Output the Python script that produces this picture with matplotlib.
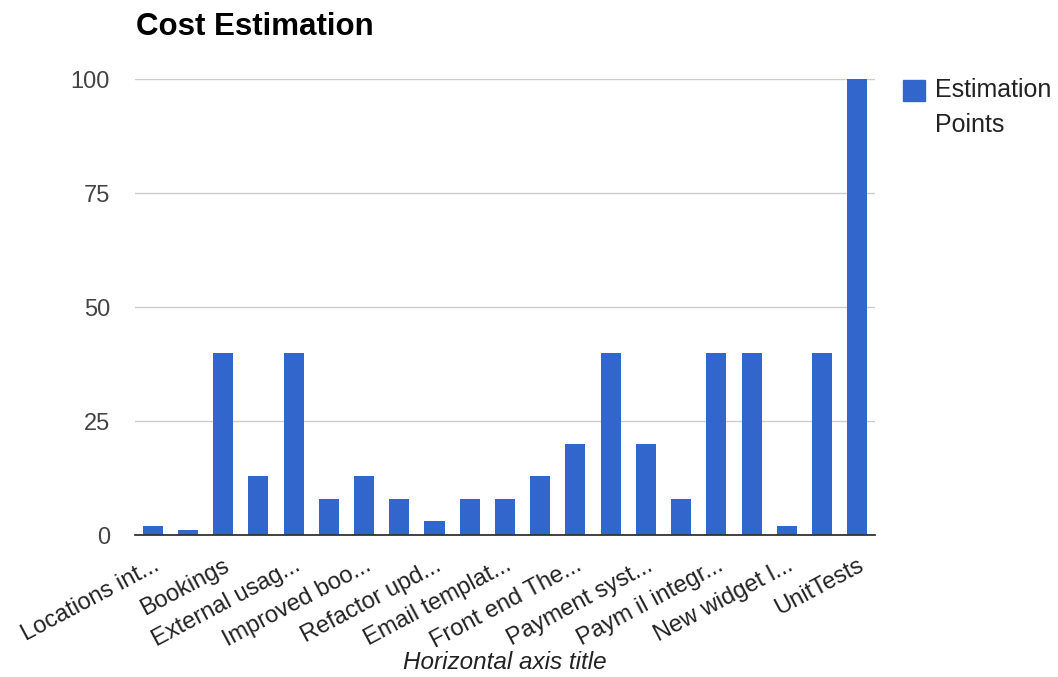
import numpy as np
import matplotlib.pyplot as plt
from matplotlib.patches import Rectangle

# story points per task
points = [2, 1, 40, 13, 40, 8, 13, 8, 3, 8, 8, 13, 20, 40, 20, 8, 40, 40, 2, 40, 100]

# only every other category label is shown on the axis
shown_labels = ["Locations int...", "Bookings", "External usag...", "Improved boo...",
                "Refactor upd...", "Email templat...", "Front end The...", "Payment syst...",
                "Paym il integr...", "New widget l...", "UnitTests"]

y_ticks = [0, 25, 50, 75, 100]
series_name = "Estimation\nPoints"
bar_color = '#3366CC'

plt.rcParams['font.family'] = ['Liberation Sans', 'DejaVu Sans']

fig = plt.figure(figsize=(10.58, 6.77), dpi=100)
ax = fig.add_axes([0.1276, 0.2097, 0.6994, 0.6736])

x = np.arange(len(points))
ax.bar(x, points, width=0.57, color=bar_color, zorder=3)

ax.set_xlim(-0.5, len(points) - 0.5)
ax.set_ylim(0, 100)
ax.set_yticks(y_ticks)
ax.set_yticklabels([str(v) for v in y_ticks], fontsize=17, color='#444444')
ax.grid(axis='y', color='#CCCCCC', linewidth=1, zorder=0)

ax.set_xticks(x[::2])
ax.set_xticklabels(shown_labels, rotation=28, ha='right', rotation_mode='anchor',
                   fontsize=17, color='#222222')
ax.tick_params(axis='both', length=0)
ax.tick_params(axis='y', pad=18)
ax.tick_params(axis='x', pad=14)

for s in ['top', 'right', 'left']:
    ax.spines[s].set_visible(False)
ax.spines['bottom'].set_color('#333333')
ax.spines['bottom'].set_linewidth(1.3)
ax.spines['bottom'].set_zorder(4)

ax.set_xlabel('Horizontal axis title', fontsize=17.5, style='italic', color='#222222')
ax.xaxis.set_label_coords(0.5, -127 / 456)
ax.xaxis.label.set_va('center')

fig.text(0.129, 0.96, 'Cost Estimation', fontsize=22.5, fontweight='bold',
         ha='left', va='center', color='#000000')

# legend drawn by hand: square aligned with the first text line
fig.patches.append(Rectangle((903 / 1058, 1 - 101 / 677), 22 / 1058, 21 / 677,
                             transform=fig.transFigure, color=bar_color))
fig.text(935 / 1058, 1 - 78 / 677, series_name, fontsize=18, color='#222222',
         ha='left', va='top', linespacing=1.6)

fig.savefig('out.png', dpi=100)
